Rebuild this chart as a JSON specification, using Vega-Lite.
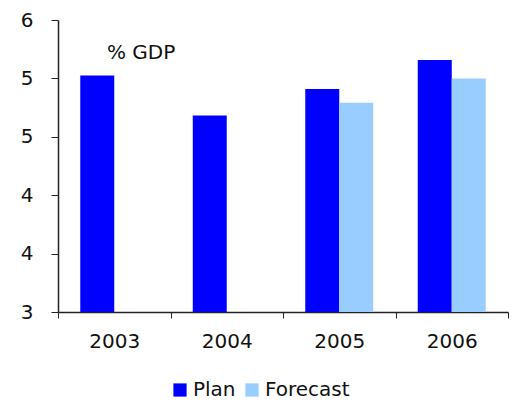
{
  "$schema": "https://vega.github.io/schema/vega-lite/v6.json",
  "width": 450,
  "height": 292,
  "autosize": {"type": "none"},
  "padding": {"left": 58, "top": 20, "right": 7, "bottom": 89},
  "background": "white",
  "config": {
    "view": {"stroke": null},
    "font": "DejaVu Sans",
    "axis": {"labelFont": "DejaVu Sans", "labelColor": "#111", "domainColor": "#222", "tickColor": "#222", "grid": false, "title": null}
  },
  "title": {"text": "% GDP", "anchor": "start", "frame": "group", "dx": 49, "offset": -53, "fontSize": 20, "fontWeight": "normal", "font": "DejaVu Sans", "color": "#111"},
  "data": {
    "values": [
      {"year": "2003", "series": "Plan", "value": 5.43},
      {"year": "2004", "series": "Plan", "value": 5.02},
      {"year": "2005", "series": "Plan", "value": 5.29},
      {"year": "2005", "series": "Forecast", "value": 5.15},
      {"year": "2006", "series": "Plan", "value": 5.59},
      {"year": "2006", "series": "Forecast", "value": 5.40}
    ]
  },
  "mark": {"type": "bar"},
  "encoding": {
    "x": {
      "field": "year", "type": "nominal",
      "scale": {"paddingInner": 0, "paddingOuter": 0},
      "axis": {"labelAngle": 0, "labelFontSize": 20, "tickBand": "extent", "tickSize": 6, "labelPadding": 13, "domainWidth": 1.5}
    },
    "xOffset": {"field": "series", "type": "nominal", "sort": ["Plan", "Forecast"], "scale": {"paddingInner": 0, "paddingOuter": 0.655}},
    "y": {
      "field": "value", "type": "quantitative", "stack": null,
      "scale": {"domain": [3, 6], "nice": false, "zero": false},
      "axis": {"values": [3, 3.6, 4.2, 4.8, 5.4, 6], "format": ".0f", "labelFontSize": 20, "tickSize": 7, "labelPadding": 18, "domainWidth": 1.5}
    },
    "y2": {"datum": 3},
    "color": {
      "field": "series", "type": "nominal",
      "scale": {"domain": ["Plan", "Forecast"], "range": ["#0000FF", "#99CCFF"]},
      "legend": {"title": null, "orient": "none", "legendX": 112, "legendY": 360, "direction": "horizontal", "symbolType": "square", "symbolSize": 175, "symbolStrokeWidth": 0, "symbolOpacity": 1, "labelFontSize": 20, "labelFont": "DejaVu Sans", "labelColor": "#111", "columnPadding": 6, "labelOffset": 3}
    }
  }
}
